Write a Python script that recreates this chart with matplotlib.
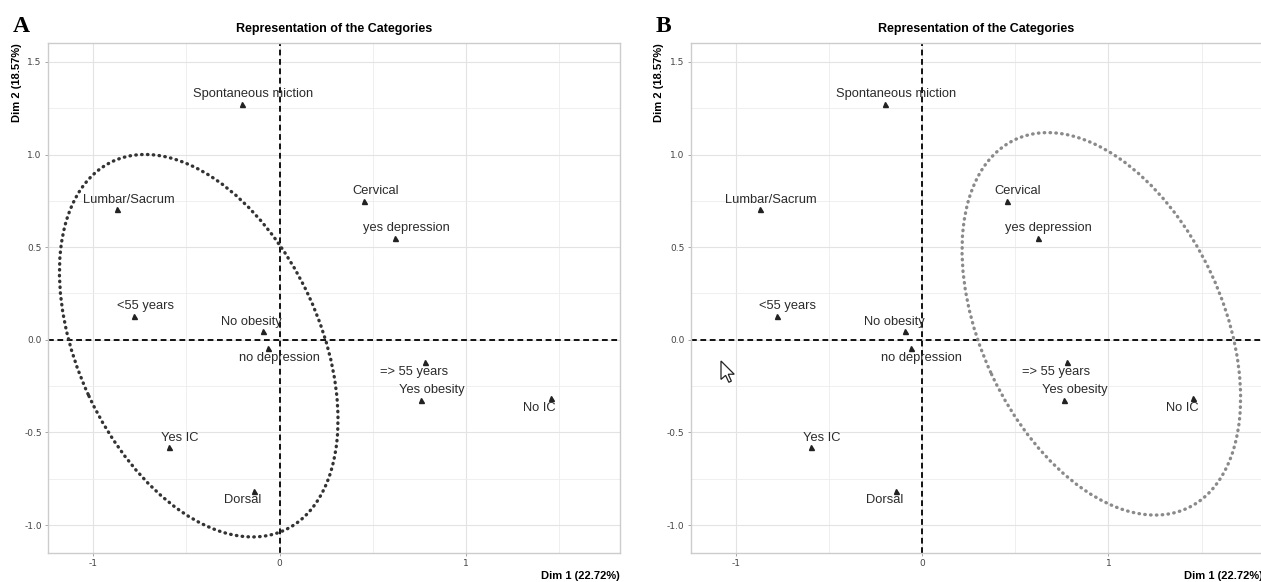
#!/usr/bin/env python3
"""MCA category map, two panels (A, B) with a different confidence ellipse each."""

import matplotlib

matplotlib.use("Agg")
import matplotlib.pyplot as plt
from matplotlib.patches import Ellipse, Polygon

# category coordinates on Dim 1 / Dim 2
categories = [
    "Spontaneous miction", "Lumbar/Sacrum", "Cervical", "yes depression",
    "<55 years", "No obesity", "no depression", "=> 55 years",
    "Yes obesity", "No IC", "Yes IC", "Dorsal",
]
dim1 = [-0.20, -0.87, 0.455, 0.62, -0.78, -0.09, -0.06, 0.78, 0.76, 1.455, -0.595, -0.14]
dim2 = [1.275, 0.705, 0.75, 0.55, 0.13, 0.045, -0.045, -0.12, -0.325, -0.315, -0.58, -0.815]

# ellipse per panel: centre (dim1, dim2), semi-axes, rotation (deg)
ellipse_center_a = (-0.434, -0.032)
ellipse_center_b = (0.962, 0.086)
ellipse_semi_axes = (1.097, 0.649)
ellipse_angle = -65.2

dim1_label = "Dim 1 (22.72%)"
dim2_label = "Dim 2 (18.57%)"
title = "Representation of the Categories"

# label placement (offset in px from the point: right/left, up/down)
label_side = {
    "Spontaneous miction": (1, 1), "Lumbar/Sacrum": (1, 1), "Cervical": (1, 1),
    "yes depression": (1, 1), "<55 years": (1, 1), "No obesity": (-1, 1),
    "no depression": (1, -1), "=> 55 years": (-1, -1), "Yes obesity": (1, 1),
    "No IC": (-1, -1), "Yes IC": (1, 1), "Dorsal": (-1, -1),
}

W, H = 1261, 582
DPI = 100
PX = 72.0 / DPI

fig = plt.figure(figsize=(W / DPI, H / DPI), dpi=DPI)
fig.patch.set_facecolor("white")

ax_w = 572 / W
ax_h = (553 - 43) / H
ax_bottom = 1 - 553 / H


def draw_panel(left_px, letter, center, ecolor):
    ax = fig.add_axes([left_px / W, ax_bottom, ax_w, ax_h])
    ax.set_xlim(-1.243, 1.827)
    ax.set_ylim(-1.151, 1.602)

    ax.set_xticks([-1, 0, 1])
    ax.set_xticklabels(["-1", "0", "1"])
    ax.set_yticks([-1.0, -0.5, 0.0, 0.5, 1.0, 1.5])
    ax.set_yticklabels(["-1.0", "-0.5", "0.0", "0.5", "1.0", "1.5"])
    ax.set_xticks([-0.5, 0.5, 1.5], minor=True)
    ax.set_yticks([-0.75, -0.25, 0.25, 0.75, 1.25], minor=True)
    ax.tick_params(which="major", length=2.5, width=0.6, color="#999999",
                   labelsize=6.5, labelcolor="#444444", pad=2)
    ax.tick_params(which="minor", length=0)
    ax.grid(which="major", color="#e3e3e3", lw=0.8)
    ax.grid(which="minor", color="#ececec", lw=0.6)
    ax.set_axisbelow(True)
    for sp in ax.spines.values():
        sp.set_color("#cccccc")
        sp.set_linewidth(1.0)

    ax.axhline(0, color="black", lw=1.3, ls=(0, (3.2, 2.0)), zorder=2)
    ax.axvline(0, color="black", lw=1.3, ls=(0, (3.2, 2.0)), zorder=2)

    ax.plot(dim1, dim2, ls="none", marker="^", ms=3.6, color="#222222", zorder=3)
    for name, x, y in zip(categories, dim1, dim2):
        sx, sy = label_side[name]
        ax.annotate(name, (x, y), xytext=(sx * 11 * PX, sy * 9.5 * PX),
                    textcoords="offset points", ha="center", va="center",
                    fontsize=9.3, color="#2b2b2b", family="Liberation Sans", zorder=4)

    ell = Ellipse(center, 2 * ellipse_semi_axes[0], 2 * ellipse_semi_axes[1],
                  angle=ellipse_angle, fill=False, edgecolor=ecolor, lw=2.4,
                  ls=(0, (0.15, 1.6)), zorder=3)
    ell.set_capstyle("round")
    ax.add_patch(ell)

    ax.set_title(title, fontsize=9, fontweight="bold", family="Liberation Sans", pad=8)
    ax.text(1.0, -0.035, dim1_label, transform=ax.transAxes, ha="right", va="top",
            fontsize=8, fontweight="bold", family="Liberation Sans")
    fig.text((left_px - 31) / W, 1 - 43 / H, dim2_label, rotation=90, ha="center",
             va="top", fontsize=8, fontweight="bold", family="Liberation Sans")
    fig.text((left_px - 27) / W, 1 - 26 / H, letter, ha="center", va="center",
             fontsize=17, fontweight="bold", family="Liberation Serif")
    return ax


draw_panel(48, "A", ellipse_center_a, "#333333")
draw_panel(690.5, "B", ellipse_center_b, "#8a8a8a")

# mouse pointer left in the screenshot
tip_x, tip_y, s = 721, 361, 1.15
cursor = [(0, 0), (0, 16), (4, 12.5), (6.8, 18.5), (9, 17.5), (6.3, 11.5), (11.5, 11.5)]
pts = [((tip_x + cx * s) / W, 1 - (tip_y + cy * s) / H) for cx, cy in cursor]
fig.add_artist(Polygon(pts, closed=True, transform=fig.transFigure,
                       facecolor="white", edgecolor="#222222", lw=0.9))

fig.savefig("out.png", dpi=DPI)
